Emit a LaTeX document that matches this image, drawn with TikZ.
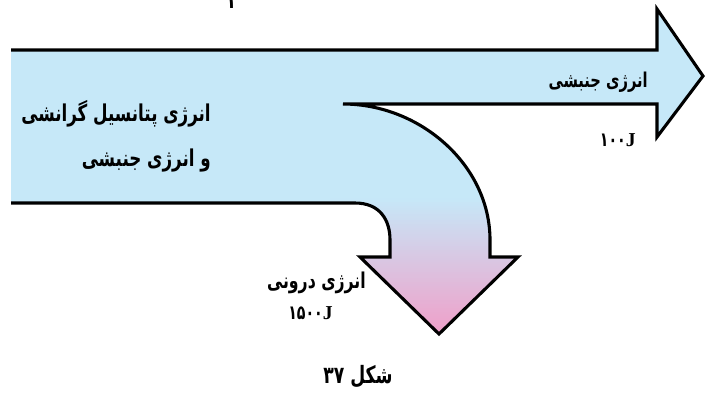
\documentclass[tikz,border=0pt]{standalone}
\usepackage{fontspec}
\setmainfont{Liberation Serif}
\newfontfamily\arabicfont[Script=Arabic, FakeStretch=0.72]{DejaVu Sans}
\TeXXeTstate=1
\usetikzlibrary{positioning}
\definecolor{flowblue}{RGB}{198,232,248}
\definecolor{flowpink}{RGB}{240,158,200}

\begin{document}
\begin{tikzpicture}[x=0.025cm, y=-0.025cm,
    band/.style={draw=black, line width=2.2pt, line join=miter, fill=flowblue},
    fa/.style={font=\arabicfont\bfseries\fontsize{16.5}{32}\selectfont, inner sep=0pt, align=right},
    num/.style={font=\bfseries\fontsize{14}{16}\selectfont, inner sep=0pt}]
  \useasboundingbox (0,0) rectangle (709,397);
  % energy flow (left edge left open), blue turning pink on the way down
  \path[band, path picture={
      \foreach \yy in {196,198,...,336} {
        \pgfmathtruncatemacro\pp{min(100,(\yy-196)/1.38)}
        \fill[flowpink!\pp!flowblue] (330,\yy) rectangle (530,\yy+3);
      }}]
    (11,50) -- (657,50) -- (657,9) -- (703,76) -- (657,137) -- (657,104) -- (343,104)
    .. controls (420,104) and (490,165) .. (490,240) -- (490,257) -- (518,257)
    -- (439,334) -- (360,257) -- (390,257) -- (390,240)
    .. controls (390,220) and (380,203) .. (355,203) -- (11,203);
  % labels
  \node[fa, anchor=base] (page) at (231,8) {۱};
  \node[fa, anchor=east] (pe) at (211,136) {\beginR انرژی پتانسیل گرانشی\endR\\\beginR و انرژی جنبشی\endR};
  \node[fa, anchor=east, font=\arabicfont\bfseries\fontsize{14.5}{16}\selectfont] (ke) at (648,82) {\beginR انرژی جنبشی\endR};
  \node[num, anchor=east] (kenum) at (636,140) {{\arabicfont ۱۰۰}J};
  \node[fa, anchor=east, font=\arabicfont\bfseries\fontsize{15.5}{18}\selectfont] (ie) at (366,283) {\beginR انرژی درونی\endR};
  \node[num, anchor=east] (ienum) at (333,313) {{\arabicfont ۱۵۰۰}J};
  % caption
  \node[fa, font=\arabicfont\bfseries\fontsize{17}{20}\selectfont] (cap) at (358,377) {\beginR شکل \beginL ۳۷\endL\endR};
\end{tikzpicture}
\end{document}
